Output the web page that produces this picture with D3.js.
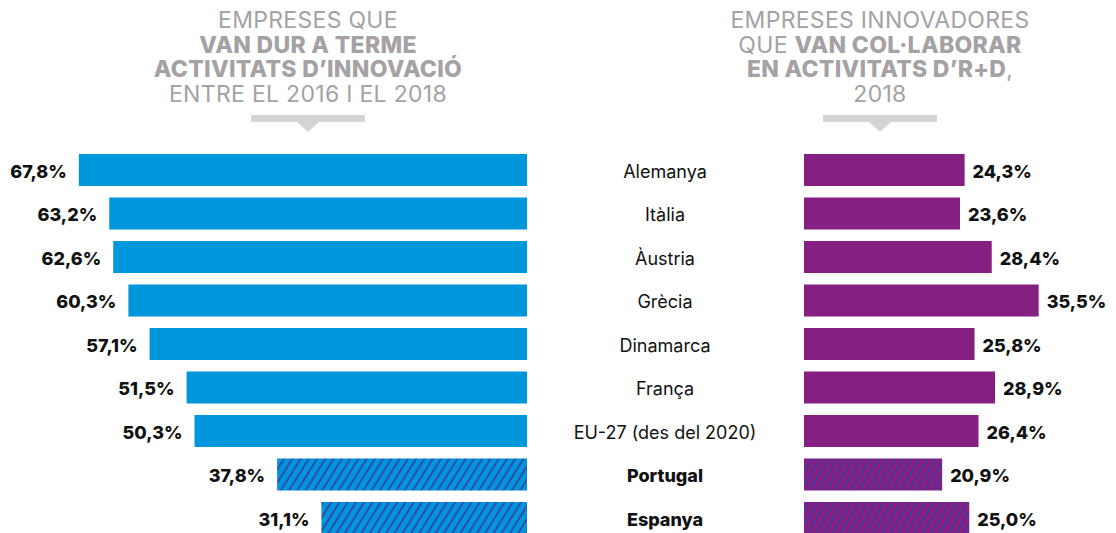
<!DOCTYPE html>
<html>
<head>
<meta charset="utf-8">
<script src="https://cdn.jsdelivr.net/npm/d3@7"></script>
<style>
  body { margin: 0; background: #fff; }
  svg { display: block; }
  .ttl { font-family: Inter, "Open Sans", sans-serif; font-size: 23px; fill: #a5a1a5; letter-spacing: 0.3px; }
  .ttl .b { font-weight: 800; }
  .val { font-family: Inter, "Open Sans", sans-serif; font-size: 18px; font-weight: 800; fill: #111; }
  .cty { font-family: Inter, "Open Sans", sans-serif; font-size: 18px; fill: #111; }
</style>
</head>
<body>
<svg width="1116" height="533"></svg>
<script>
// =====
// DATA
// =====
var countries = ["Alemanya", "Itàlia", "Àustria", "Grècia", "Dinamarca", "França", "EU-27 (des del 2020)", "Portugal", "Espanya"];
var innovacio = [67.8, 63.2, 62.6, 60.3, 57.1, 51.5, 50.3, 37.8, 31.1];
var collabora = [24.3, 23.6, 28.4, 35.5, 25.8, 28.9, 26.4, 20.9, 25.0];
var highlight = ["Portugal", "Espanya"];

var titleLeft = [
  [["EMPRESES QUE", false]],
  [["VAN DUR A TERME", true]],
  [["ACTIVITATS D\u2019INNOVACIÓ", true]],
  [["ENTRE EL 2016 I EL 2018", false]]
];
var titleRight = [
  [["EMPRESES INNOVADORES", false]],
  [["QUE ", false], ["VAN COL·LABORAR", true]],
  [["EN ACTIVITATS D\u2019R+D", true], [",", false]],
  [["2018", false]]
];

var blue = "#0096db", purple = "#851f82", stripe = "#3b3aa0";

var svg = d3.select("svg");

// hatch patterns for Portugal / Espanya
var defs = svg.append("defs");
function hatch(id, base) {
  var p = defs.append("pattern")
    .attr("id", id)
    .attr("patternUnits", "userSpaceOnUse")
    .attr("width", 7).attr("height", 7)
    .attr("patternTransform", "rotate(32)");
  p.append("rect").attr("width", 7).attr("height", 7).attr("fill", base);
  p.append("line").attr("x1", 1).attr("y1", 0).attr("x2", 1).attr("y2", 7)
    .attr("stroke", stripe).attr("stroke-width", 1.6);
}
hatch("hatchBlue", blue);
hatch("hatchPurple", purple);

// ######
// SCALES
// ######
var y = d3.scaleBand().domain(countries).range([154, 534]).paddingInner(0.264).paddingOuter(0);
var xl = d3.scaleLinear().domain([0, 100]).range([527, 527 - 661]);
var xr = d3.scaleLinear().domain([0, 100]).range([804, 804 + 661]);

var rowsL = countries.map(function (c, i) { return { c: c, v: innovacio[i] }; });
var rowsR = countries.map(function (c, i) { return { c: c, v: collabora[i] }; });
function isHi(d) { return highlight.indexOf(d.c) >= 0; }
function fmt(v) { return v.toFixed(1).replace(".", ",") + "%"; }

// left bars
svg.append("g").selectAll("rect")
  .data(rowsL).enter().append("rect")
  .attr("x", function (d) { return xl(d.v); })
  .attr("y", function (d) { return y(d.c); })
  .attr("width", function (d) { return xl(0) - xl(d.v); })
  .attr("height", y.bandwidth())
  .attr("fill", function (d) { return isHi(d) ? "url(#hatchBlue)" : blue; });

svg.append("g").selectAll("text")
  .data(rowsL).enter().append("text")
  .attr("class", "val")
  .attr("x", function (d) { return xl(d.v) - 12; })
  .attr("y", function (d) { return y(d.c) + y.bandwidth() / 2; })
  .attr("dy", "0.42em")
  .attr("text-anchor", "end")
  .text(function (d) { return fmt(d.v); });

// right bars
svg.append("g").selectAll("rect")
  .data(rowsR).enter().append("rect")
  .attr("x", xr(0))
  .attr("y", function (d) { return y(d.c); })
  .attr("width", function (d) { return xr(d.v) - xr(0); })
  .attr("height", y.bandwidth())
  .attr("fill", function (d) { return isHi(d) ? "url(#hatchPurple)" : purple; });

svg.append("g").selectAll("text")
  .data(rowsR).enter().append("text")
  .attr("class", "val")
  .attr("x", function (d) { return xr(d.v) + 8; })
  .attr("y", function (d) { return y(d.c) + y.bandwidth() / 2; })
  .attr("dy", "0.42em")
  .text(function (d) { return fmt(d.v); });

// country names in the middle
svg.append("g").selectAll("text")
  .data(countries).enter().append("text")
  .attr("class", "cty")
  .attr("x", 665)
  .attr("y", function (d) { return y(d) + y.bandwidth() / 2; })
  .attr("dy", "0.42em")
  .attr("text-anchor", "middle")
  .style("font-weight", function (d) { return highlight.indexOf(d) >= 0 ? 800 : 400; })
  .text(function (d) { return d; });

// ######
// TITLES
// ######
function drawTitle(lines, cx) {
  var t = svg.append("text").attr("class", "ttl").attr("text-anchor", "middle");
  lines.forEach(function (parts, i) {
    var line = t.append("tspan").attr("x", cx).attr("y", 28 + i * 24.5);
    parts.forEach(function (p) {
      line.append("tspan").attr("class", p[1] ? "b" : null).text(p[0]);
    });
  });
  // grey bar with small arrow underneath
  svg.append("rect").attr("x", cx - 57).attr("y", 115).attr("width", 114).attr("height", 7).attr("fill", "#d5d3d6");
  svg.append("path")
    .attr("d", "M" + (cx - 11) + ",122L" + (cx + 11) + ",122L" + cx + ",132Z")
    .attr("fill", "#d5d3d6");
}
drawTitle(titleLeft, 308);
drawTitle(titleRight, 880);
</script>
</body>
</html>
